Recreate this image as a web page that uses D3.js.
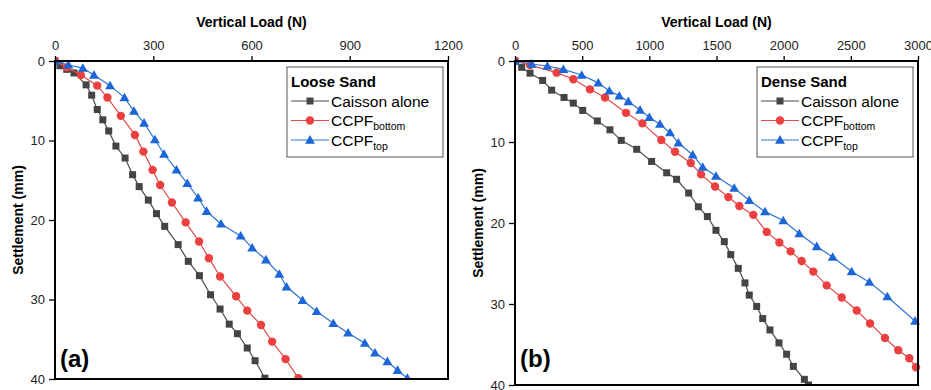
<!DOCTYPE html>
<html>
<head>
<meta charset="utf-8">
<script src="https://cdn.jsdelivr.net/npm/d3@7"></script>
<style>
  body { margin: 0; background: #fff; }
  svg { font-family: Arial, "Liberation Sans", sans-serif; }
</style>
</head>
<body>
<svg id="chart" width="931" height="390"></svg>
<script>
// loose sand, [load N, settlement mm]
const looseCaisson = [[0,0],[15,0.6],[36,1.05],[58,1.5],[95,3.0],[112,4.3],[129,6.1],[146,7.4],[164,8.8],[186,10.7],[214,12.2],[237,14.3],[257,15.8],[285,17.5],[310,19.2],[335,20.8],[376,23.1],[407,25.2],[441,27.0],[475,29.4],[504,31.2],[532,33.1],[557,34.3],[587,36.1],[611,37.7],[641,39.9]];
const looseBottom = [[0,0],[36,0.8],[79,1.76],[129,3.1],[160,4.6],[201,6.9],[244,9.3],[270,11.4],[298,13.7],[321,15.6],[357,17.8],[399,20.3],[440,22.7],[470,24.8],[504,27.1],[553,29.6],[587,31.4],[629,33.2],[663,35.3],[704,37.5],[743,39.9]];
const looseTop = [[0,0],[41,0.5],[85,0.9],[119,1.76],[168,3.1],[212,4.6],[241,6.3],[272,7.8],[305,9.9],[333,11.7],[371,13.7],[404,15.4],[437,17.2],[463,18.9],[507,20.5],[567,22.0],[602,23.5],[644,25.0],[685,26.8],[707,28.4],[756,30.1],[799,31.5],[850,33.0],[895,34.2],[946,35.5],[977,36.7],[1015,37.8],[1046,38.9],[1076,39.9]];

// dense sand
const denseCaisson = [[0,0],[50,0.78],[112,1.5],[206,2.4],[273,3.6],[365,4.5],[434,5.2],[504,6.1],[613,7.4],[707,8.5],[791,9.8],[906,10.9],[1017,12.4],[1129,13.8],[1203,14.6],[1293,16.3],[1365,18.0],[1432,19.2],[1496,20.9],[1558,22.3],[1606,23.9],[1662,25.6],[1712,27.4],[1744,28.9],[1799,30.3],[1844,31.8],[1898,33.2],[1965,34.8],[2022,36.2],[2072,37.7],[2154,39.3],[2185,40]];
const denseBottom = [[0,0],[112,0.5],[310,1.44],[434,2.26],[558,3.5],[670,4.5],[826,6.4],[948,7.7],[1089,9.75],[1191,11.2],[1308,12.6],[1385,14.0],[1489,15.5],[1588,16.8],[1670,17.9],[1774,19.0],[1874,21.1],[1968,22.4],[2052,23.5],[2134,24.7],[2221,26.0],[2320,27.7],[2432,29.2],[2544,30.8],[2643,32.4],[2754,34.2],[2853,35.7],[2935,36.7],[2985,37.8]];
const denseTop = [[0,0],[124,0.37],[241,0.62],[360,1.03],[496,1.73],[620,2.7],[702,3.7],[776,4.3],[844,5.0],[931,6.05],[1000,6.95],[1079,7.8],[1154,8.85],[1216,10.1],[1323,11.6],[1397,13.1],[1496,14.2],[1632,15.7],[1744,17.2],[1861,18.6],[1997,19.7],[2116,21.3],[2246,22.9],[2365,24.2],[2506,26.0],[2638,27.3],[2772,29.1],[2978,32.1]];

const looseTicks = [0, 300, 600, 900, 1200];
const denseTicks = [0, 500, 1000, 1500, 2000, 2500, 3000];
const settleTicks = [0, 10, 20, 30, 40];
const seriesNames = ["Caisson alone", "CCPF", "CCPF"];
const seriesSubs = ["", "bottom", "top"];

const colors = { line: ["#4d4d4d", "#e04a4a", "#2f74d0"], mark: ["#444444", "#ec4040", "#1c66d8"] };

const svg = d3.select("#chart");

const panels = [
  { left: 55, right: 448, top: 61, bottom: 379, max: 1200, ticks: looseTicks, data: [looseCaisson, looseBottom, looseTop],
    title: "Loose Sand", tag: "(a)", ylab: 18, legX: 287, legW: 156 },
  { left: 515, right: 918, top: 61, bottom: 385, max: 3000, ticks: denseTicks, data: [denseCaisson, denseBottom, denseTop],
    title: "Dense Sand", tag: "(b)", ylab: 478, legX: 757, legW: 156 }
];

function marker(g, i, x, y) {
  if (i === 0) {
    g.append("rect").attr("x", x - 3.5).attr("y", y - 3.5).attr("width", 7).attr("height", 7).attr("fill", colors.mark[0]);
  } else if (i === 1) {
    g.append("circle").attr("cx", x).attr("cy", y).attr("r", 4.2).attr("fill", colors.mark[1]);
  } else {
    g.append("path").attr("d", d3.symbol(d3.symbolTriangle, 42)()).attr("transform", `translate(${x},${y + 0.8})`).attr("fill", colors.mark[2]);
  }
}

panels.forEach(p => {
  const x = d3.scaleLinear().domain([0, p.max]).range([p.left, p.right]);
  const y = d3.scaleLinear().domain([0, 40]).range([p.top, p.bottom]);
  const g = svg.append("g");

  g.append("defs").append("clipPath").attr("id", "clip" + p.tag[1])
    .append("rect").attr("x", p.left).attr("y", p.top - 6).attr("width", p.right - p.left + 6).attr("height", p.bottom - p.top + 6);

  const plot = g.append("g").attr("clip-path", `url(#clip${p.tag[1]})`);
  const line = d3.line().x(d => x(d[0])).y(d => y(d[1]));
  p.data.forEach((s, i) => {
    plot.append("path").datum(s).attr("d", line).attr("fill", "none")
      .attr("stroke", colors.line[i]).attr("stroke-width", 1.2);
    s.forEach(d => marker(plot, i, x(d[0]), y(d[1])));
  });

  // frame
  g.append("rect").attr("x", p.left).attr("y", p.top).attr("width", p.right - p.left).attr("height", p.bottom - p.top)
    .attr("fill", "none").attr("stroke", "#000").attr("stroke-width", 2);

  const ax = g.append("g").attr("transform", `translate(0,${p.top})`)
    .call(d3.axisTop(x).tickValues(p.ticks).tickSize(5).tickPadding(6).tickFormat(d3.format("d")));
  const ay = g.append("g").attr("transform", `translate(${p.left},0)`)
    .call(d3.axisLeft(y).tickValues(settleTicks).tickSize(6).tickPadding(4).tickFormat(d3.format("d")));
  [ax, ay].forEach(a => {
    a.select(".domain").remove();
    a.selectAll("line").attr("stroke", "#000").attr("stroke-width", 1.3);
    a.selectAll("text").attr("font-size", 13).attr("fill", "#222").attr("font-family", "Arial, 'Liberation Sans', sans-serif");
  });

  g.append("text").attr("x", (p.left + p.right) / 2).attr("y", 27).attr("text-anchor", "middle")
    .attr("font-size", 14).attr("font-weight", "bold").text("Vertical Load (N)");
  g.append("text").attr("transform", `translate(${p.ylab},${(p.top + p.bottom) / 2}) rotate(-90)`)
    .attr("text-anchor", "middle").attr("dy", "0.35em").attr("font-size", 14).attr("font-weight", "bold").text("Settlement (mm)");
  g.append("text").attr("x", p.left + 5).attr("y", 367).attr("font-size", 24).attr("font-weight", "bold").text(p.tag);

  // legend
  const lg = g.append("g").attr("transform", `translate(${p.legX},67)`);
  lg.append("rect").attr("width", p.legW).attr("height", 90).attr("fill", "#fff").attr("stroke", "#555").attr("stroke-width", 1);
  lg.append("text").attr("x", 4).attr("y", 20).attr("font-size", 15).attr("font-weight", "bold").text(p.title);
  seriesNames.forEach((n, i) => {
    const cy = 34 + i * 19.5;
    lg.append("line").attr("x1", 4).attr("x2", 42).attr("y1", cy).attr("y2", cy).attr("stroke", colors.line[i]).attr("stroke-width", 1.2);
    marker(lg, i, 23, cy);
    const t = lg.append("text").attr("x", 44).attr("y", cy + 5.5).attr("font-size", 15.5).text(n);
    if (seriesSubs[i]) t.append("tspan").attr("dy", 4).attr("font-size", 10.5).text(seriesSubs[i]);
  });
});
</script>
</body>
</html>
